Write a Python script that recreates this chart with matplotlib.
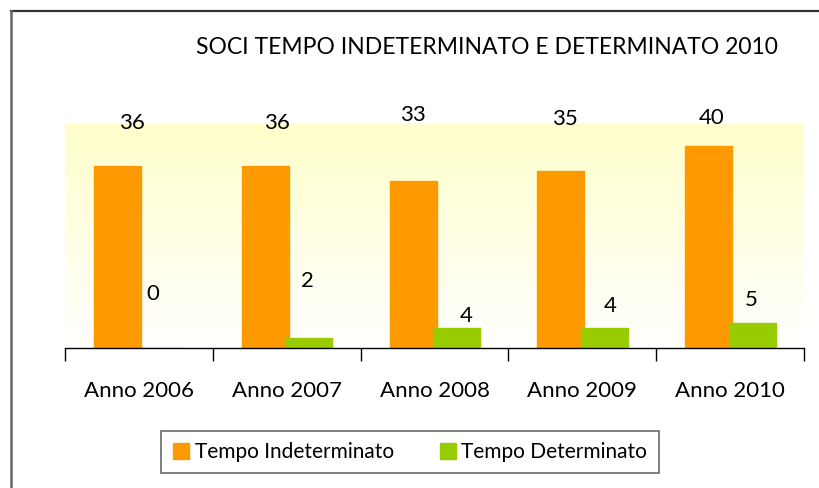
import numpy as np
import matplotlib
matplotlib.use('Agg')
import matplotlib.pyplot as plt
from matplotlib.patches import Patch
from matplotlib.lines import Line2D

# dati
anni = ['Anno 2006', 'Anno 2007', 'Anno 2008', 'Anno 2009', 'Anno 2010']
indeterminato = [36, 36, 33, 35, 40]
determinato = [0, 2, 4, 4, 5]
titolo = 'SOCI TEMPO INDETERMINATO E DETERMINATO 2010'

# spostamento delle etichette (pixel), come nell'originale
off_ind = [(14, 43), (12, 43), (0, 66), (4, 52), (3, 28)]
off_det = [(-8, 54), (-1, 57), (10, 12), (6, 22), (-1, 23)]

arancio = '#FF9900'
verde = '#99CC00'
plt.rcParams['font.family'] = ['Lato', 'DejaVu Sans']

W, H = 819, 488
fig = plt.figure(figsize=(W / 100, H / 100), dpi=100)
fig.patch.set_facecolor('white')

# cornice tagliata a destra e in basso
fig.add_artist(Line2D([11 / W, 1], [1 - 11 / H, 1 - 11 / H], color='#333333', lw=1.6))
fig.add_artist(Line2D([11 / W, 11 / W], [0, 1 - 11 / H], color='#666666', lw=1.8))

ax = fig.add_axes([65 / W, 140 / H, (804 - 65) / W, 225 / H])

# sfondo sfumato giallo -> bianco
grad = np.linspace(0, 1, 256).reshape(-1, 1)
top = np.array([1.0, 1.0, 0.80])
bot = np.array([1.0, 1.0, 1.0])
img = bot + (top - bot) * grad[:, :, None] * np.ones((1, 1, 3))
ax.imshow(img, extent=[0, 1, 0, 1], transform=ax.transAxes, origin='lower',
          aspect='auto', zorder=0)

x = np.arange(len(anni))
w = 0.318
b1 = ax.bar(x - 0.145, indeterminato, w, color=arancio, edgecolor=arancio,
            linewidth=1, joinstyle='round', zorder=3)
b2 = ax.bar(x + 0.149, determinato, w, color=verde, edgecolor=verde,
            linewidth=1, joinstyle='round', zorder=4)

for rect, v, (dx, dy) in zip(b1, indeterminato, off_ind):
    ax.annotate(str(v), (rect.get_x() + rect.get_width() / 2, v),
                xytext=(dx, dy), textcoords='offset pixels',
                ha='center', va='center', fontsize=16, annotation_clip=False)
for rect, v, (dx, dy) in zip(b2, determinato, off_det):
    ax.annotate(str(v), (rect.get_x() + rect.get_width() / 2, v),
                xytext=(dx, dy), textcoords='offset pixels',
                ha='center', va='center', fontsize=16, annotation_clip=False)

ax.set_xlim(-0.5, len(anni) - 0.5)
ax.set_ylim(0, 44.5)
for s in ['top', 'right', 'left']:
    ax.spines[s].set_visible(False)
ax.spines['bottom'].set_color('black')
ax.spines['bottom'].set_linewidth(1)
ax.spines['bottom'].set_zorder(5)
ax.set_yticks([])
ax.set_xticks(np.arange(len(anni) + 1) - 0.5)
ax.set_xticklabels([])
ax.set_xticks(x, minor=True)
ax.set_xticklabels(anni, minor=True, fontsize=16)
ax.tick_params(axis='x', which='major', length=9, width=1, direction='out')
ax.tick_params(axis='x', which='minor', length=0, pad=24)

fig.text(487 / W, 1 - 47 / H, titolo, ha='center', va='center', fontsize=16.5)

handles = [Patch(facecolor=arancio, edgecolor=arancio, label='Tempo Indeterminato'),
           Patch(facecolor=verde, edgecolor=verde, label='Tempo Determinato')]
leg = fig.legend(handles=handles, loc='center', bbox_to_anchor=(410 / W, 1 - 452 / H),
                 ncol=2, fontsize=15, frameon=True, fancybox=False,
                 handlelength=0.8, handleheight=0.8, handletextpad=0.25,
                 columnspacing=2.2, borderpad=0.55, borderaxespad=0)
leg.get_frame().set_edgecolor('#444444')
leg.get_frame().set_linewidth(1.2)

plt.savefig('out.png', dpi=100)
